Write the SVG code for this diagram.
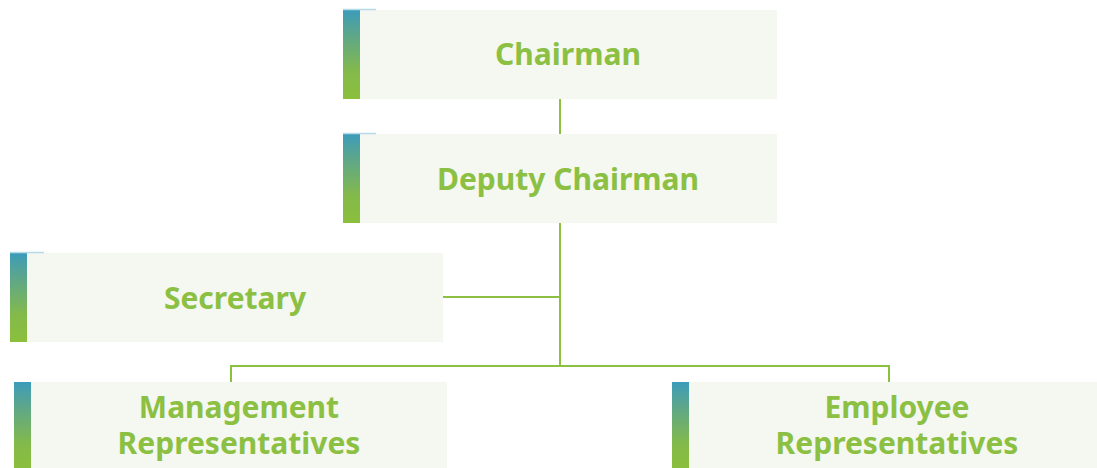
<svg xmlns="http://www.w3.org/2000/svg" width="1097" height="468" viewBox="0 0 1097 468">
<defs>
<linearGradient id="bar" x1="0" y1="0" x2="0" y2="1">
<stop offset="0" stop-color="#3b9cba"/>
<stop offset="0.25" stop-color="#5aa58f"/>
<stop offset="0.7" stop-color="#84ba4a"/>
<stop offset="1" stop-color="#8bbf3c"/>
</linearGradient>
<style>
.box{fill:#f5f7f1}
.bar{fill:url(#bar)}
.tick{stroke:#b6dbe8;stroke-width:1.5}
.t{font-family:"Noto Sans","Open Sans",sans-serif;font-weight:bold;font-size:30px;fill:#8bc043;text-anchor:middle}
.c{stroke:#8bc043;stroke-width:2;fill:none}
</style>
</defs>
<g id="connectors">
<line class="c" x1="560" y1="99" x2="560" y2="134"/>
<line class="c" x1="560" y1="223" x2="560" y2="366"/>
<line class="c" x1="443" y1="297" x2="560" y2="297"/>
<line class="c" x1="230" y1="366" x2="890" y2="366"/>
<line class="c" x1="231" y1="365" x2="231" y2="382"/>
<line class="c" x1="889" y1="365" x2="889" y2="382"/>
</g>
<g id="chairman">
<rect class="box" x="343" y="10" width="434" height="89"/>
<rect class="bar" x="343" y="10" width="17" height="89"/>
<line class="tick" x1="343" y1="9.5" x2="376" y2="9.5"/>
<text class="t" x="568" y="65">Chairman</text>
</g>
<g id="deputy">
<rect class="box" x="343" y="134" width="434" height="89"/>
<rect class="bar" x="343" y="134" width="17" height="89"/>
<line class="tick" x1="343" y1="133.5" x2="376" y2="133.5"/>
<text class="t" x="568" y="190">Deputy Chairman</text>
</g>
<g id="secretary">
<rect class="box" x="10" y="253" width="433" height="89"/>
<rect class="bar" x="10" y="253" width="17" height="89"/>
<line class="tick" x1="10" y1="252.5" x2="44" y2="252.5"/>
<text class="t" x="235" y="309">Secretary</text>
</g>
<g id="management">
<rect class="box" x="14" y="382" width="433" height="89"/>
<rect class="bar" x="14" y="382" width="17" height="89"/>
<text class="t" x="239" y="418">Management</text>
<text class="t" x="239" y="454">Representatives</text>
</g>
<g id="employee">
<rect class="box" x="672" y="382" width="425" height="89"/>
<rect class="bar" x="672" y="382" width="17" height="89"/>
<text class="t" x="897" y="418">Employee</text>
<text class="t" x="897" y="454">Representatives</text>
</g>
</svg>
